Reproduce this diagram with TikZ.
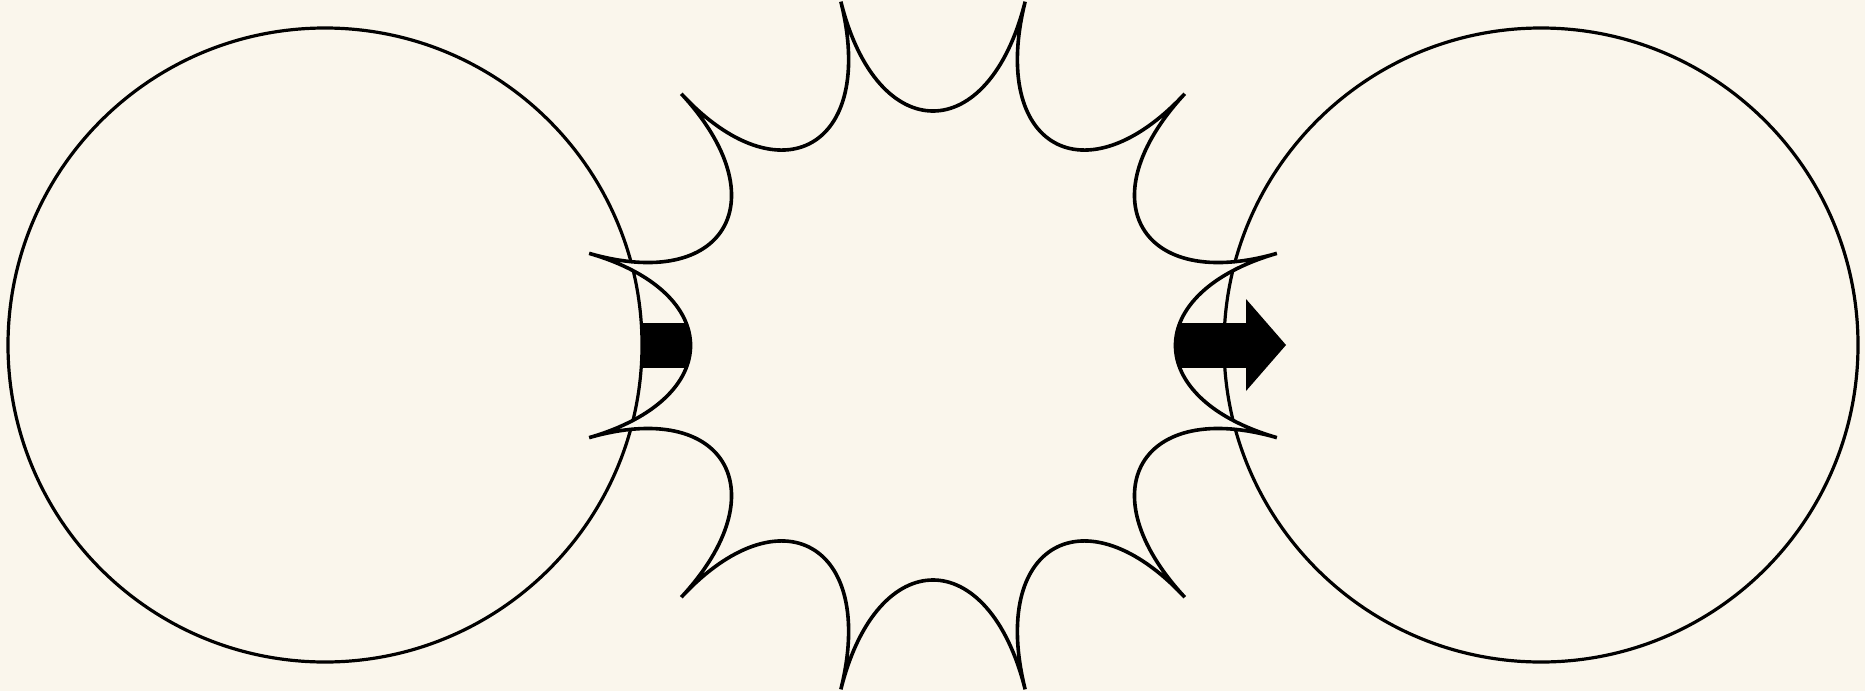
\documentclass[tikz,border=0pt]{standalone}
\usetikzlibrary{arrows.meta,calc}
\definecolor{paper}{RGB}{250,246,236}
\begin{document}
\begin{tikzpicture}[x=1pt,y=-1pt,line width=3.2pt,
  ring/.style={circle,draw=black,line width=3.2pt,minimum size=634pt,inner sep=0pt,outer sep=0pt},
  bigarrow/.style={line width=45pt,draw=black,-{Triangle[length=40pt,width=92pt,line width=0pt]}},
  burst/.style={draw=black,fill=paper,line width=3.6pt}]
\fill[paper] (0,0) rectangle (1865,691);
\useasboundingbox (0,0) rectangle (1865,691);
\node[ring] (L) at (325,345) {};
\node[ring] (R) at (1541,345) {};
\coordinate (S) at (933,345.5);
\coordinate (tip) at ($(R.west)+(62,0)$);
\draw[bigarrow] (L.east) -- (tip);
\draw[burst] ($(S)+(15:356)$)
  \foreach \a [evaluate=\a as \b using \a+30] in {15,45,...,345} {
    .. controls ($(S)+({216*cos(\a)},{205*sin(\a)})$)
           and ($(S)+({216*cos(\b)},{205*sin(\b)})$) .. ($(S)+(\b:356)$)
  } -- cycle;
\end{tikzpicture}
\end{document}
